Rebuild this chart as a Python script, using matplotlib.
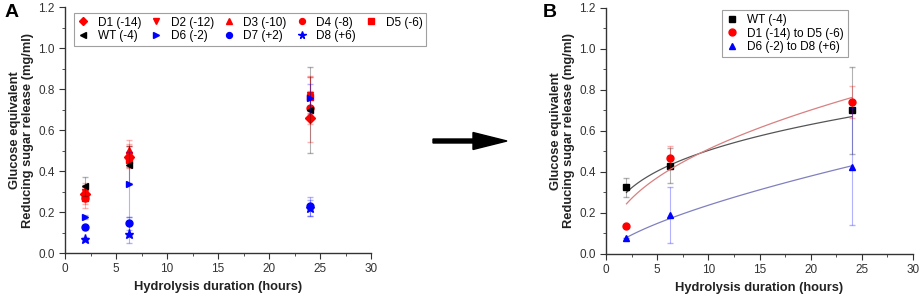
import numpy as np
import matplotlib
matplotlib.use("Agg")
import matplotlib.pyplot as plt
from matplotlib.ticker import MultipleLocator

plt.rcParams['font.family'] = ['Liberation Sans', 'DejaVu Sans']

# panel A: individual strains
times = [2.0, 6.3, 24.0]
names_a = ['D1 (-14)', 'D2 (-12)', 'D3 (-10)', 'D4 (-8)', 'D5 (-6)',
           'WT (-4)', 'D6 (-2)', 'D7 (+2)', 'D8 (+6)']
markers_a = ['D', 'v', '^', 'o', 's', '<', '>', 'o', '*']
colors_a = ['red', 'red', 'red', 'red', 'red', 'black', 'blue', 'blue', 'blue']
means_a = [
    [0.29, 0.47, 0.66],
    [0.30, 0.48, 0.77],
    [0.31, 0.505, 0.765],
    [0.27, 0.47, 0.71],
    [0.27, 0.455, 0.76],
    [0.325, 0.43, 0.70],
    [0.175, 0.335, 0.755],
    [0.125, 0.145, 0.228],
    [0.07, 0.095, 0.22],
]
errs_a = [
    [0.03, 0.05, 0.12],
    [0.03, 0.05, 0.09],
    [0.03, 0.045, 0.10],
    [0.05, 0.05, 0.08],
    [0.03, 0.04, 0.10],
    [0.045, 0.09, 0.21],
    [0.01, 0.16, 0.07],
    [0.01, 0.03, 0.045],
    [0.01, 0.045, 0.04],
]

# panel B: grouped means
names_b = ['WT (-4)', 'D1 (-14) to D5 (-6)', 'D6 (-2) to D8 (+6)']
markers_b = ['s', 'o', '^']
colors_b = ['black', 'red', 'blue']
fitcolors_b = ['#555555', '#d98080', '#8080c0']
means_b = [
    [0.325, 0.43, 0.70],
    [0.135, 0.47, 0.74],
    [0.08, 0.19, 0.425],
]
errs_b = [
    [0.045, 0.085, 0.21],
    [0.0, 0.055, 0.078],
    [0.0, 0.137, 0.285],
]
# power-law fits y = a * t^b
fit_a = [0.24, 0.178, 0.05]
fit_b = [0.323, 0.458, 0.677]

fig = plt.figure(figsize=(9.2, 2.96), dpi=100)
axA = fig.add_axes([0.0707, 0.145, 0.3326, 0.831])
axB = fig.add_axes([0.6587, 0.142, 0.3337, 0.831])


def style(ax):
    ax.set_xlim(0, 30)
    ax.set_ylim(0, 1.2)
    ax.xaxis.set_major_locator(MultipleLocator(5))
    ax.xaxis.set_minor_locator(MultipleLocator(2.5))
    ax.yaxis.set_major_locator(MultipleLocator(0.2))
    ax.yaxis.set_minor_locator(MultipleLocator(0.1))
    ax.set_yticklabels([f'{v:.1f}' for v in ax.get_yticks()])
    for s in ['top', 'right']:
        ax.spines[s].set_visible(False)
    for s in ['left', 'bottom']:
        ax.spines[s].set_color('#333333')
        ax.spines[s].set_linewidth(1.0)
    ax.tick_params(which='both', direction='out', colors='#333333', labelsize=8.5)
    ax.tick_params(which='major', length=4)
    ax.tick_params(which='minor', length=2)
    ax.set_xlabel('Hydrolysis duration (hours)', fontsize=9.3, fontweight='bold', color='#222222')
    ax.set_ylabel('Glucose equivalent\nReducing sugar release (mg/ml)', fontsize=9.3,
                  fontweight='bold', color='#222222', linespacing=1.15, labelpad=3)


handles = {}
for name, m, c, y, e in zip(names_a, markers_a, colors_a, means_a, errs_a):
    axA.errorbar(times, y, yerr=e, fmt='none', ecolor=c, alpha=0.3, elinewidth=0.8, capsize=2)
    ms = 6.5 if m == '*' else 5
    h, = axA.plot(times, y, linestyle='none', marker=m, color=c, markersize=ms)
    handles[name] = h
order = ['D1 (-14)', 'WT (-4)', 'D2 (-12)', 'D6 (-2)', 'D3 (-10)', 'D7 (+2)',
         'D4 (-8)', 'D8 (+6)', 'D5 (-6)']
leg = axA.legend([handles[n] for n in order], order, ncol=5, loc='upper left',
                 bbox_to_anchor=(0.01, 1.0), fontsize=8.5, handlelength=1.0,
                 columnspacing=0.8, handletextpad=0.7, borderpad=0.3,
                 labelspacing=0.15, fancybox=False, edgecolor='#888888',
                 markerscale=0.85)
leg.get_frame().set_linewidth(0.8)
style(axA)

tt = np.linspace(times[0], times[-1], 100)
hb = []
for name, m, c, fc, y, e, a, b in zip(names_b, markers_b, colors_b, fitcolors_b,
                                      means_b, errs_b, fit_a, fit_b):
    axB.plot(tt, a * tt ** b, color=fc, linewidth=0.9)
    axB.errorbar(times, y, yerr=e, fmt='none', ecolor=c, alpha=0.3, elinewidth=0.8, capsize=2)
    h, = axB.plot(times, y, linestyle='none', marker=m, color=c, markersize=5)
    hb.append(h)
leg = axB.legend(hb, names_b, loc='upper left', bbox_to_anchor=(0.36, 1.015),
                 fontsize=8.5, handlelength=1.0, handletextpad=0.8, borderpad=0.3,
                 labelspacing=0.15, fancybox=False, edgecolor='#888888')
leg.get_frame().set_linewidth(0.8)
style(axB)

fig.text(0.005, 0.985, 'A', fontsize=14, fontweight='bold', va='top')
fig.text(0.59, 0.985, 'B', fontsize=14, fontweight='bold', va='top')
fig.add_artist(matplotlib.patches.FancyArrow(
    433 / 920, 1 - 141 / 296, 74 / 920, 0, width=4 / 296, head_width=17 / 296,
    head_length=34 / 920, length_includes_head=True, color='black',
    transform=fig.transFigure))

fig.savefig('out.png', dpi=100)
